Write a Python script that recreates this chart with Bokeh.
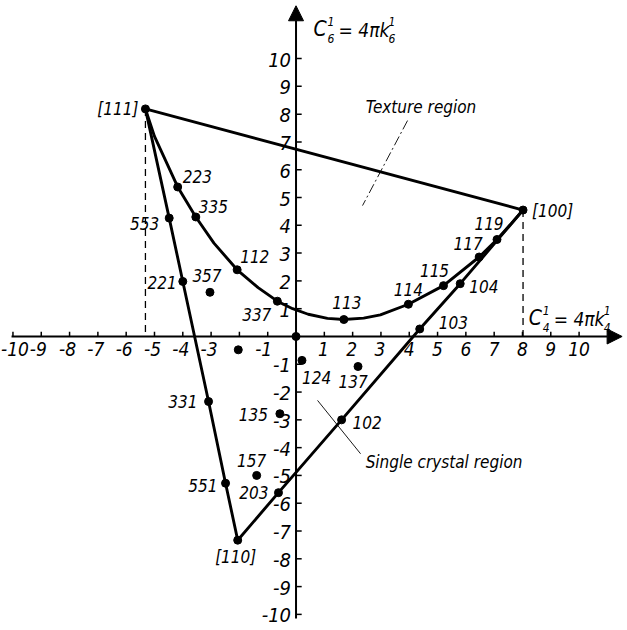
from bokeh.plotting import figure
from bokeh.models import ColumnDataSource, Range1d, Arrow, NormalHead, Label
from bokeh.core.properties import value
from bokeh.embed import file_html
from bokeh.resources import INLINE

FONT = "'Liberation Sans Narrow', 'DejaVu Sans Condensed', 'Liberation Sans', sans-serif"

# ---------------- data ----------------
x_ticks = [-10, -9, -8, -7, -6, -5, -4, -3, -2, -1, 1, 2, 3, 4, 5, 6, 7, 8, 9, 10]
x_tick_labels = ["-10", "-9", "-8", "-7", "-6", "-5", "-4", "-3", "", "-1",
                 "1", "2", "3", "4", "5", "6", "7", "8", "9", "10"]
y_ticks = [10, 9, 8, 7, 6, 5, 4, 3, 2, 1, -1, -2, -3, -4, -5, -6, -7, -8, -9, -10]
y_tick_labels = ["10", "9", "8", "7", "6", "5", "4", "3", "2", "1",
                 "-1", "-2", "-3", "-4", "-5", "-6", "-7", "-8", "-9", "-10"]

# orientations (C4, C6)
point_names = ["[111]", "[100]", "[110]",
               "223", "335", "112", "337", "113", "114", "115", "117", "119",
               "553", "221", "331", "551",
               "203", "102", "103", "104",
               "357", "124", "137", "135", "157", "", " "]
point_c4 = [-5.32, 8.02, -2.06,
            -4.18, -3.54, -2.08, -0.66, 1.69, 3.97, 5.21, 6.47, 7.10,
            -4.48, -4.00, -3.09, -2.49,
            -0.62, 1.61, 4.37, 5.80,
            -3.04, 0.21, 2.19, -0.57, -1.39, -2.04, 0.0]
point_c6 = [8.19, 4.55, -7.33,
            5.38, 4.30, 2.40, 1.27, 0.61, 1.16, 1.83, 2.86, 3.49,
            4.26, 1.98, -2.34, -5.28,
            -5.62, -3.00, 0.27, 1.90,
            1.59, -0.86, -1.08, -2.78, -5.00, -0.48, 0.0]

# boundary curve [111] -> [100]
texture_curve_c4 = [-5.32, -5.00, -4.18, -3.54, -2.90, -2.08, -1.34, -0.66, -0.12,
                    0.43, 1.11, 1.69, 2.39, 2.98, 3.97, 5.21, 6.47, 7.10, 7.60, 8.02]
texture_curve_c6 = [8.19, 7.20, 5.38, 4.30, 3.36, 2.40, 1.76, 1.27, 1.00,
                    0.80, 0.65, 0.61, 0.66, 0.78, 1.16, 1.83, 2.86, 3.49, 4.06, 4.55]

edge_111_110 = ["[111]", "553", "221", "331", "551", "[110]"]
edge_110_100 = ["[110]", "203", "102", "103", "104", "[100]"]
edge_111_100 = ["[111]", "[100]"]

# ---------------- label styling (not data) ----------------
label_style = {  # name: (align, dx, dy)
    "[111]": ("right", -7, 0), "[100]": ("left", 9, 1), "[110]": ("center", -2, 17),
    "223": ("left", 5, -10), "335": ("left", 3, -10), "112": ("left", 3, -13),
    "337": ("right", -6, 13), "113": ("center", 3, -17), "114": ("center", 0, -15),
    "115": ("center", -9, -15), "117": ("center", -11, -14), "119": ("center", -8, -16),
    "553": ("right", -10, 5), "221": ("right", -6, 1), "331": ("right", -11, 0),
    "551": ("right", -8, 2), "203": ("right", -10, 0), "102": ("left", 11, 3),
    "103": ("left", 19, -6), "104": ("left", 9, 3), "357": ("center", -3, -17),
    "124": ("left", 0, 17), "137": ("center", -5, 15), "135": ("right", -12, 1),
    "157": ("center", -5, -15), "": ("center", 0, 0), " ": ("center", 0, 0),
}
x_label_dx = [2, -3, -2, -2, -2, -2, -2, -2, -2, -4, -1, -1, -1, 0, 0, 0, 0, 0, 0, 0]

W, H = 627, 630
p = figure(width=W, height=H, x_range=Range1d(-10.44, 11.71), y_range=Range1d(-10.58, 12.09),
           output_backend="svg", toolbar_location=None, min_border=0,
           x_axis_location=None, y_axis_location=None, outline_line_color=None)
p.grid.visible = False
p.background_fill_color = "white"

pos = {n: (x, y) for n, x, y in zip(point_names, point_c4, point_c6)}

# axes with arrows
p.add_layout(Arrow(end=NormalHead(size=15, fill_color="black", line_color="black"),
                   x_start=-10.05, y_start=0, x_end=11.52, y_end=0, line_width=2, line_color="black"))
p.add_layout(Arrow(end=NormalHead(size=15, fill_color="black", line_color="black"),
                   x_start=0, y_start=-10.15, x_end=0, y_end=11.9, line_width=2, line_color="black"))

tick_len_x = 0.17
tick_len_y = 0.2
p.segment(x0=x_ticks, y0=[0] * len(x_ticks), x1=x_ticks, y1=[tick_len_x] * len(x_ticks),
          line_color="black", line_width=1.5)
p.segment(x0=[0] * len(y_ticks), y0=y_ticks, x1=[tick_len_y] * len(y_ticks), y1=y_ticks,
          line_color="black", line_width=1.5)

p.text(x=x_ticks, y=[0] * len(x_ticks), text=x_tick_labels, text_align="center",
       text_baseline="top", x_offset=x_label_dx, y_offset=6, text_font=value(FONT),
       text_font_style="italic", text_font_size="19px", text_color="black")
p.text(x=[0] * len(y_ticks), y=y_ticks, text=y_tick_labels, text_align="right",
       text_baseline="middle", x_offset=-5, y_offset=1, text_font=value(FONT),
       text_font_style="italic", text_font_size="20px", text_color="black")

# dashed projections
dash_names = ["[111]", "[100]"]
p.segment(x0=[pos[n][0] for n in dash_names], y0=[pos[n][1] for n in dash_names],
          x1=[pos[n][0] for n in dash_names], y1=[0, 0],
          line_color="black", line_width=1.3, line_dash="7 5")

# boundary lines
p.line(texture_curve_c4, texture_curve_c6, line_color="black", line_width=2.9)
for edge in (edge_111_110, edge_110_100, edge_111_100):
    p.line([pos[n][0] for n in edge], [pos[n][1] for n in edge], line_color="black", line_width=2.9)

# points
p.scatter(point_c4, point_c6, size=8, marker="circle", fill_color="black", line_color="black")

src = ColumnDataSource(dict(
    x=point_c4, y=point_c6, text=point_names,
    align=[label_style[n][0] for n in point_names],
    dx=[label_style[n][1] for n in point_names],
    dy=[label_style[n][2] for n in point_names],
))
p.text(x="x", y="y", text="text", source=src, text_align="align", text_baseline="middle",
       x_offset="dx", y_offset="dy", text_font=value(FONT), text_font_style="italic",
       text_font_size="17px", text_color="black")

# region annotations with leader lines
texture_leader_c4 = [3.94, 2.35]
texture_leader_c6 = [7.77, 4.71]
single_leader_c4 = [0.76, 2.28]
single_leader_c6 = [-2.3, -4.22]
p.line(texture_leader_c4, texture_leader_c6, line_color="black", line_width=0.9, line_dash="10 3 2 3")
p.line(single_leader_c4, single_leader_c6, line_color="black", line_width=0.9)
p.add_layout(Label(x=2.46, y=8.27, text="Texture region", text_align="left", text_baseline="middle",
                   text_font=FONT, text_font_style="italic", text_font_size="17px",
                   text_color="black"))
p.add_layout(Label(x=2.46, y=-4.53, text="Single crystal region", text_align="left",
                   text_baseline="middle", text_font=FONT, text_font_style="italic",
                   text_font_size="17px", text_color="black"))

# axis titles with stacked super/subscripts
def axis_title(x, y, sub):
    pieces = [("C", 0, 0, "21px"), ("1", 14, -8, "12px"), (sub, 14, 9, "12px"),
              ("= 4πk", 25, 1, "19px"), ("1", 75, -8, "12px"), (sub, 75, 9, "12px")]
    for txt, dx, dy, fs in pieces:
        p.add_layout(Label(x=x, y=y, x_offset=dx, y_offset=-dy, text=txt, text_align="left",
                           text_baseline="middle", text_font=FONT, text_font_style="italic",
                           text_font_size=fs, text_color="black"))

axis_title(0.62, 11.06, "6")
axis_title(8.22, 0.66, "4")

open("out.html", "w").write(file_html(p, INLINE))
